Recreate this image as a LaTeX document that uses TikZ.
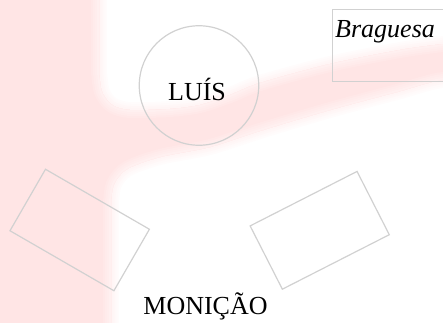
\documentclass[tikz,border=0pt]{standalone}
\usepackage{fontspec}
\setmainfont{Liberation Serif}

\newcommand{\pinkband}{(-30,-30) -- (-30,352) -- (99,352)
  -- plot[smooth] coordinates {(99,250) (102,230) (112,217) (130,212) (170,213) (200,217) (230,227) (260,239) (330,258) (400,272) (443,278) (475,282)}
  -- (475,236)
  -- plot[smooth] coordinates {(475,236) (443,242) (397,230) (330,212) (263,192) (210,175) (160,165) (127,153) (114,138) (111,120)}
  -- (111,-30) -- cycle}

\begin{document}
\begin{tikzpicture}[x=1pt,y=1pt,
   frame/.style={draw=black!18, line width=1.2pt},
   ring/.style={frame, circle, minimum size=119.5pt, inner sep=0pt},
   tile/.style={frame, rectangle, minimum width=120pt, minimum height=71pt, inner sep=0pt},
   word/.style={font=\fontsize{26}{30}\selectfont, inner sep=0pt}]
 \useasboundingbox (0,0) rectangle (443,322);
 \clip (0,0) rectangle (443,322);
 \foreach \w/\c in {16/1,12/2,8/3,4/4}
   \draw[red!\c, line width=\w pt, line join=round] \pinkband;
 \fill[red!10] \pinkband;
 \begin{scope}
   \clip \pinkband;
   \foreach \w/\c in {16/9,12/8,8/7,4/6}
     \draw[red!\c, line width=\w pt, line join=round] \pinkband;
 \end{scope}
 \node[ring] (luis) at (199,236.5) {};
 \node[word, anchor=base] (luisname) at (197,222) {LUÍS};
 \node[frame, anchor=north west, minimum width=150pt, minimum height=72pt, inner sep=0pt] (brbox) at (331.7,313) {};
 \node[word, anchor=base west, font=\fontsize{26}{30}\selectfont\itshape] (braguesa) at (335,284.5) {Braguesa};
 \node[tile, rotate=-30] (lefttile) at (79.7,92) {};
 \node[tile, rotate=27] (righttile) at (319.7,91.7) {};
 \node[word, anchor=base] (moncao) at (205.5,8) {MONIÇÃO};
\end{tikzpicture}
\end{document}
